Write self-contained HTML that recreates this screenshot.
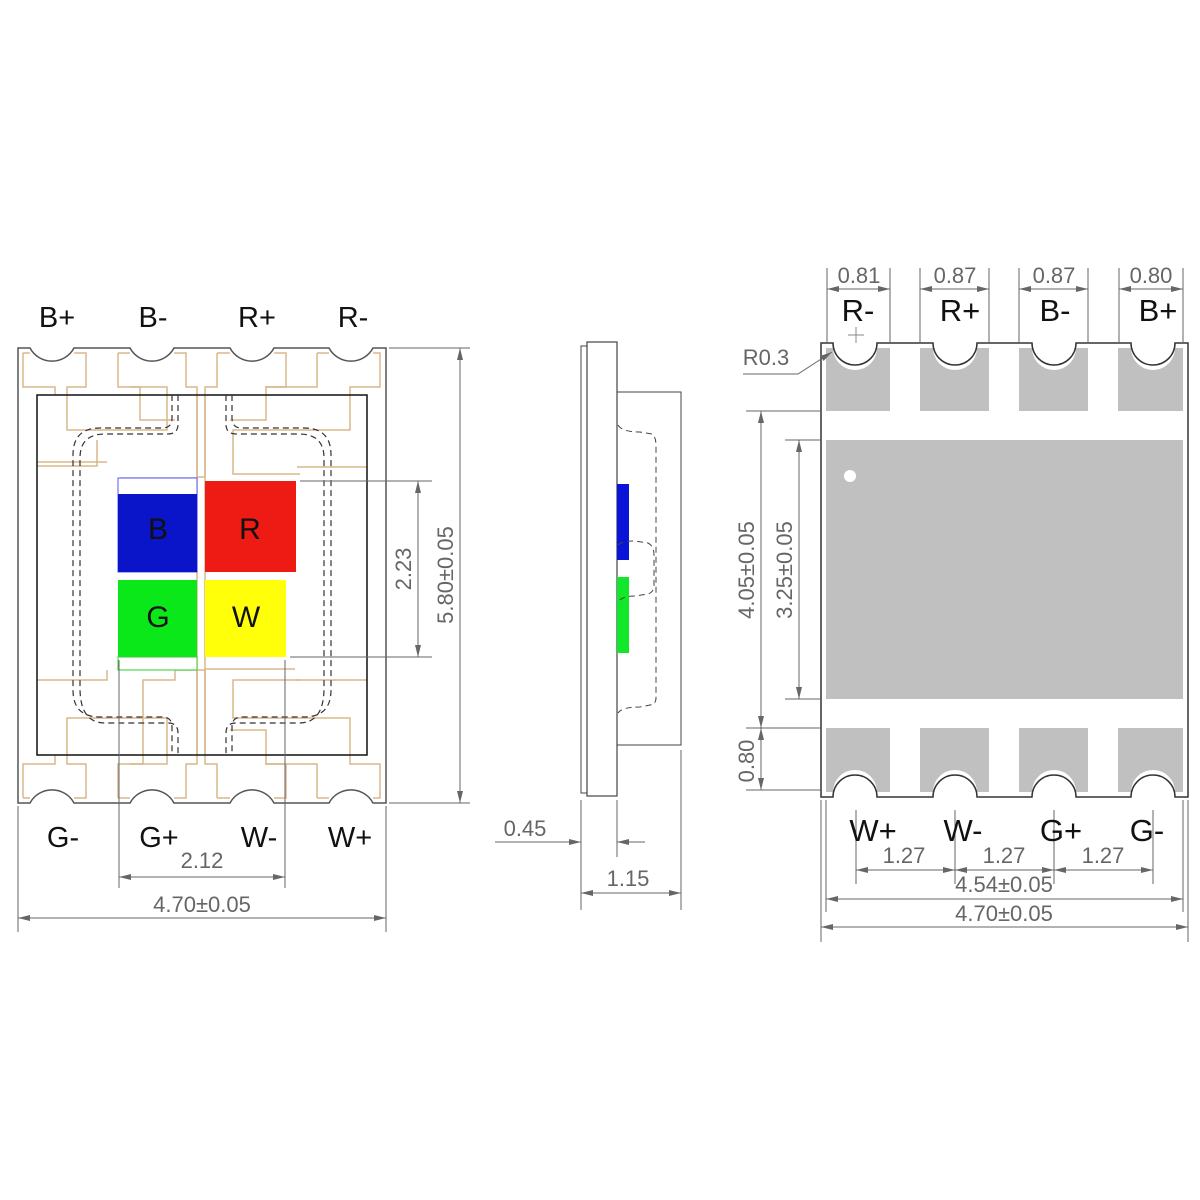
<!DOCTYPE html>
<html><head><meta charset="utf-8"><style>
html,body{margin:0;padding:0;background:#fff;}
svg{display:block;}
text{font-family:"Liberation Sans",Arial,sans-serif;}
</style></head><body>
<svg width="1200" height="1200" viewBox="0 0 1200 1200" xmlns="http://www.w3.org/2000/svg">
<defs>
<marker id="a" viewBox="0 0 12 6" refX="12" refY="3" markerWidth="12" markerHeight="6" orient="auto-start-reverse" markerUnits="userSpaceOnUse"><path d="M0,0 L12,3 L0,6 z" fill="#666"/></marker>
</defs>
<rect width="1200" height="1200" fill="#fff"/>

<!-- ============ LEFT VIEW ============ -->
<g fill="none" stroke="#d8b88c" stroke-width="1.5">
  <path d="M23,353 H30 M74,353 H86 V387 H67 V430 H167 V387 H130 M23,353 V387 H55 V395"/>
  <path d="M118,353 H130 M174,353 H186 V387 H197 V477 H205 M118,353 V387 H140 V420 H175"/>
  <path d="M217,353 H230 M274,353 H286 V387 H266 V420 H230 M217,353 V387 H205 V477"/>
  <path d="M317,353 H329 M373,353 H380 V387 H350 V430 H233 V474 H300 M317,353 V387 H265"/>
  <path d="M37,466 H97 V440 M37,462 H107 M120,478 H196 M297,467 H367"/>
  <path d="M23,798 H30 M74,798 H86 V764 H67 V718 H167 V764 H130 M23,798 V764 H55 V755"/>
  <path d="M118,798 H130 M174,798 H186 V764 H197 V670 H205 M118,798 V764 H143 V680 H175 V670 H197"/>
  <path d="M217,798 H230 M274,798 H286 V764 H266 V730 H230 M217,798 V764 H205 V670"/>
  <path d="M317,798 H329 M373,798 H380 V764 H350 V718 H233 V680 H300 M317,798 V764 H265"/>
  <path d="M37,680 H107 V670 M297,680 H367 M120,669 H196 M205,669 H295"/>
  <path d="M197,395 V755 M205,395 V755"/>
</g>
<path d="M18,348 H30 A25,25 0 0 0 74,348 H130 A25,25 0 0 0 174,348 H230 A25,25 0 0 0 274,348 H329 A25,25 0 0 0 373,348 H386 V803 H373 A25,25 0 0 0 329,803 H274 A25,25 0 0 0 230,803 H174 A25,25 0 0 0 130,803 H74 A25,25 0 0 0 30,803 H18 Z" fill="none" stroke="#555" stroke-width="1.5"/>
<rect x="37" y="395" width="330" height="360" fill="none" stroke="#111" stroke-width="1.5"/>
<g fill="none" stroke="#333" stroke-width="1.2" stroke-dasharray="6,4">
  <path d="M172,395 V418 Q172,428 162,428 H100 Q73,428 73,455 V690 Q73,717 100,717 H162 Q172,717 172,727 V755"/>
  <path d="M178,395 V424 Q178,434 168,434 H105 Q80,434 80,458 V688 Q80,723 105,723 H168 Q178,723 178,733 V755"/>
  <path d="M232,395 V418 Q232,428 242,428 H304 Q331,428 331,455 V690 Q331,717 304,717 H242 Q232,717 232,727 V755"/>
  <path d="M226,395 V424 Q226,434 236,434 H299 Q324,434 324,458 V688 Q324,723 299,723 H236 Q226,723 226,733 V755"/>
</g>
<rect x="118" y="478" width="79" height="94" fill="#fff" stroke="#55f" stroke-width="1"/>
<rect x="118" y="494" width="79" height="78" fill="#0a14c8"/>
<rect x="205" y="481" width="91" height="91" fill="#ee1a14"/>
<rect x="118" y="580" width="79" height="77" fill="#0be81a"/>
<rect x="118" y="657" width="79" height="13" fill="#fff" stroke="#3c3" stroke-width="1"/>
<rect x="205" y="580" width="81" height="77" fill="#ffff0a"/>
<g font-size="30" fill="#111" text-anchor="middle">
<text x="158" y="539">B</text><text x="250" y="539">R</text>
<text x="158" y="627">G</text><text x="246" y="627">W</text>
</g>
<g stroke="#666" stroke-width="1" fill="none">
  <path d="M300,481 H432 M290,657 H432 M389,348 H470 M389,803 H470"/>
  <path d="M418,481 V657" marker-start="url(#a)" marker-end="url(#a)"/>
  <path d="M460,348 V803" marker-start="url(#a)" marker-end="url(#a)"/>
  <path d="M119,660 V888 M285,660 V888 M18,806 V932 M386,806 V932"/>
  <path d="M119,877 H285" marker-start="url(#a)" marker-end="url(#a)"/>
  <path d="M18,918 H386" marker-start="url(#a)" marker-end="url(#a)"/>
</g>
<g font-size="22" fill="#666" text-anchor="middle">
  <text transform="translate(411,569) rotate(-90)">2.23</text>
  <text transform="translate(453,575) rotate(-90)">5.80±0.05</text>
  <text x="202" y="868">2.12</text>
  <text x="202" y="912">4.70±0.05</text>
</g>
<g font-size="29" fill="#111" text-anchor="middle">
  <text x="57" y="327">B+</text><text x="153" y="327">B-</text><text x="257" y="327">R+</text><text x="353" y="327">R-</text>
  <text x="63" y="847">G-</text><text x="159" y="847">G+</text><text x="259" y="847">W-</text><text x="350" y="847">W+</text>
</g>

<!-- ============ MIDDLE VIEW ============ -->
<rect x="581" y="346" width="6" height="447" fill="none" stroke="#444" stroke-width="1"/>
<rect x="587" y="342" width="30" height="454" fill="#fff" stroke="#444" stroke-width="1.2"/>
<rect x="617" y="392" width="64" height="353" fill="none" stroke="#444" stroke-width="1"/>
<rect x="617" y="484" width="12" height="76" fill="#0a14d8"/>
<rect x="617" y="577" width="12" height="76" fill="#12e82a"/>
<g fill="none" stroke="#444" stroke-width="1" stroke-dasharray="6,4">
  <path d="M618,425 Q622,432 640,432 L652,434 Q656,437 656,445 V698 Q656,704 650,705 L640,707 Q622,707 618,713"/>
  <path d="M618,545 Q622,541 635,541 L648,543 Q654,546 654,555 V585 Q654,592 648,594 L635,596 Q622,596 618,602"/>
</g>
<g stroke="#666" stroke-width="1" fill="none">
  <path d="M581,800 V910 M617,800 V857 M681,750 V910"/>
  <path d="M495,842 H581" marker-end="url(#a)"/>
  <path d="M645,842 H617" marker-end="url(#a)"/>
  <path d="M581,893 H681" marker-start="url(#a)" marker-end="url(#a)"/>
</g>
<g font-size="22" fill="#666" text-anchor="middle">
  <text x="525" y="836">0.45</text>
  <text x="628" y="886">1.15</text>
</g>

<!-- ============ RIGHT VIEW ============ -->
<g fill="#c0c0c0">
  <path d="M826,348 H833 A22,22 0 0 0 877,348 H890 V411 H826 Z"/>
  <path d="M920,348 H933 A22,22 0 0 0 977,348 H989 V411 H920 Z"/>
  <path d="M1019,348 H1032 A22,22 0 0 0 1076,348 H1088 V411 H1019 Z"/>
  <path d="M1118,348 H1131 A22,22 0 0 0 1175,348 H1183 V411 H1118 Z"/>
  <rect x="826" y="440" width="357" height="259"/>
  <path d="M826,792 H833 A22,22 0 0 1 877,792 H890 V728 H826 Z"/>
  <path d="M920,792 H933 A22,22 0 0 1 977,792 H989 V728 H920 Z"/>
  <path d="M1019,792 H1032 A22,22 0 0 1 1076,792 H1088 V728 H1019 Z"/>
  <path d="M1118,792 H1131 A22,22 0 0 1 1175,792 H1183 V728 H1118 Z"/>
</g>
<path d="M821,343 H833 A22,22 0 0 0 877,343 H933 A22,22 0 0 0 977,343 H1032 A22,22 0 0 0 1076,343 H1131 A22,22 0 0 0 1175,343 H1188 V797 H1175 A22,22 0 0 0 1131,797 H1076 A22,22 0 0 0 1032,797 H977 A22,22 0 0 0 933,797 H877 A22,22 0 0 0 833,797 H821 Z" fill="none" stroke="#333" stroke-width="1.5"/>
<circle cx="850" cy="476" r="6" fill="#fff"/>
<path d="M856,327 V343 M848,335 H864" stroke="#888" stroke-width="1"/>
<g stroke="#666" stroke-width="1" fill="none">
  <path d="M827,268 V343 M890,268 V343 M920,268 V343 M989,268 V343 M1019,268 V343 M1088,268 V343 M1119,268 V343 M1183,268 V343"/>
  <path d="M827,289 H890" marker-start="url(#a)" marker-end="url(#a)"/>
  <path d="M920,289 H989" marker-start="url(#a)" marker-end="url(#a)"/>
  <path d="M1019,289 H1088" marker-start="url(#a)" marker-end="url(#a)"/>
  <path d="M1119,289 H1183" marker-start="url(#a)" marker-end="url(#a)"/>
  <path d="M743,374 H798 L832,352" marker-end="url(#a)"/>
  <path d="M746,411 H821 M785,440 H821 M746,728 H821 M746,790 H821 M785,699 H821"/>
  <path d="M761,411 V728" marker-start="url(#a)" marker-end="url(#a)"/>
  <path d="M799,440 V699" marker-start="url(#a)" marker-end="url(#a)"/>
  <path d="M761,728 V790" marker-start="url(#a)" marker-end="url(#a)"/>
  <path d="M856,810 V884 M955,810 V884 M1054,810 V884 M1153,810 V884 M826,800 V912 M1183,800 V912 M821,800 V942 M1188,800 V942"/>
  <path d="M856,870 H955" marker-start="url(#a)" marker-end="url(#a)"/>
  <path d="M955,870 H1054" marker-start="url(#a)" marker-end="url(#a)"/>
  <path d="M1054,870 H1153" marker-start="url(#a)" marker-end="url(#a)"/>
  <path d="M826,899 H1183" marker-start="url(#a)" marker-end="url(#a)"/>
  <path d="M821,927 H1188" marker-start="url(#a)" marker-end="url(#a)"/>
</g>
<g font-size="22" fill="#666" text-anchor="middle">
  <text x="859" y="283">0.81</text><text x="955" y="283">0.87</text><text x="1054" y="283">0.87</text><text x="1151" y="283">0.80</text>
  <text x="766" y="365">R0.3</text>
  <text transform="translate(754,570) rotate(-90)">4.05±0.05</text>
  <text transform="translate(792,570) rotate(-90)">3.25±0.05</text>
  <text transform="translate(754,761) rotate(-90)">0.80</text>
  <text x="904" y="863">1.27</text><text x="1004" y="863">1.27</text><text x="1103" y="863">1.27</text>
  <text x="1004" y="892">4.54±0.05</text>
  <text x="1004" y="921">4.70±0.05</text>
</g>
<g font-size="31" fill="#111" text-anchor="middle">
  <text x="858" y="321">R-</text><text x="960" y="321">R+</text><text x="1055" y="321">B-</text><text x="1158" y="321">B+</text>
  <text x="873" y="841">W+</text><text x="963" y="841">W-</text><text x="1061" y="841">G+</text><text x="1147" y="841">G-</text>
</g>
</svg>
</body></html>
